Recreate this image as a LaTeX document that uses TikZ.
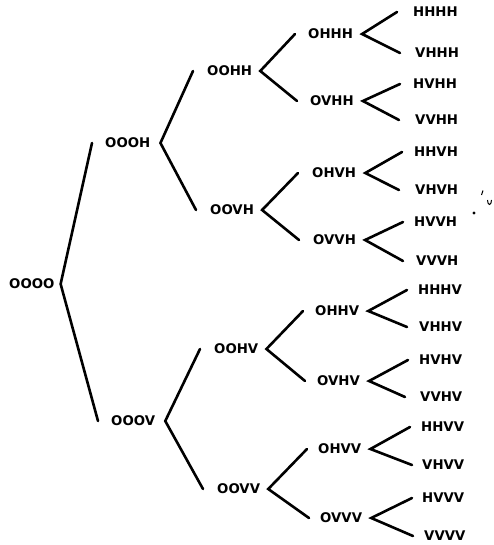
\documentclass[tikz,border=0pt]{standalone}
\usepackage{fontspec}
\newfontfamily\lblfont{DejaVu Sans}
\begin{document}
\begin{tikzpicture}[x=1pt,y=-1pt,
  lbl/.style={anchor=west,inner sep=0pt,font=\lblfont\bfseries\fontsize{13.3}{15}\selectfont},
  br/.style={line width=2.6pt,line cap=round,line join=miter},
  speck/.style={line width=1pt}]
\useasboundingbox (0,0) rectangle (493,545);
% level 0
\node[lbl] (OOOO) at (9,284) {OOOO};
% level 1
\node[lbl] (OOOH) at (105,143) {OOOH};
\node[lbl] (OOOV) at (111,421) {OOOV};
% level 2
\node[lbl] (OOHH) at (207,71) {OOHH};
\node[lbl] (OOVH) at (210,210) {OOVH};
\node[lbl] (OOHV) at (214,349) {OOHV};
\node[lbl] (OOVV) at (217,489) {OOVV};
% level 3
\node[lbl] (OHHH) at (308,34) {OHHH};
\node[lbl] (OVHH) at (310,101) {OVHH};
\node[lbl] (OHVH) at (312,173) {OHVH};
\node[lbl] (OVVH) at (313,240) {OVVH};
\node[lbl] (OHHV) at (315,311) {OHHV};
\node[lbl] (OVHV) at (317,381) {OVHV};
\node[lbl] (OHVV) at (318,449) {OHVV};
\node[lbl] (OVVV) at (320,518) {OVVV};
% level 4
\node[lbl] (HHHH) at (413,12) {HHHH};
\node[lbl] (VHHH) at (415,53) {VHHH};
\node[lbl] (HVHH) at (413,84) {HVHH};
\node[lbl] (VVHH) at (415,120) {VVHH};
\node[lbl] (HHVH) at (414,152) {HHVH};
\node[lbl] (VHVH) at (415,190) {VHVH};
\node[lbl] (HVVH) at (414,222) {HVVH};
\node[lbl] (VVVH) at (416,261) {VVVH};
\node[lbl] (HHHV) at (418,290) {HHHV};
\node[lbl] (VHHV) at (419,327) {VHHV};
\node[lbl] (HVHV) at (419,360) {HVHV};
\node[lbl] (VVHV) at (420,397) {VVHV};
\node[lbl] (HHVV) at (421,427) {HHVV};
\node[lbl] (VHVV) at (422,465) {VHVV};
\node[lbl] (HVVV) at (422,498) {HVVV};
\node[lbl] (VVVV) at (424,536) {VVVV};
% branches
\draw[br] ([xshift=-13pt]OOOH.west) -- ([xshift=6pt]OOOO.east) -- ([xshift=-13pt]OOOV.west);
\draw[br] ([xshift=-14pt]OOHH.west) -- ([xshift=10pt]OOOH.east) -- ([xshift=-14pt]OOVH.west);
\draw[br] ([xshift=-14pt]OOHV.west) -- ([xshift=10pt]OOOV.east) -- ([xshift=-14pt]OOVV.west);
\draw[br] ([xshift=-13pt]OHHH.west) -- ([xshift=8pt]OOHH.east) -- ([xshift=-13pt]OVHH.west);
\draw[br] ([xshift=-14pt]OHVH.west) -- ([xshift=8pt]OOVH.east) -- ([xshift=-14pt]OVVH.west);
\draw[br] ([xshift=-12pt]OHHV.west) -- ([xshift=8pt]OOHV.east) -- ([xshift=-12pt]OVHV.west);
\draw[br] ([xshift=-11pt]OHVV.west) -- ([xshift=8pt]OOVV.east) -- ([xshift=-11pt]OVVV.west);
\draw[br] ([xshift=-16pt]HHHH.west) -- ([xshift=9pt]OHHH.east) -- ([xshift=-15pt]VHHH.west);
\draw[br] ([xshift=-13pt]HVHH.west) -- ([xshift=9pt]OVHH.east) -- ([xshift=-16pt]VVHH.west);
\draw[br] ([xshift=-12pt]HHVH.west) -- ([xshift=9pt]OHVH.east) -- ([xshift=-16pt]VHVH.west);
\draw[br] ([xshift=-11pt]HVVH.west) -- ([xshift=9pt]OVVH.east) -- ([xshift=-13pt]VVVH.west);
\draw[br] ([xshift=-11pt]HHHV.west) -- ([xshift=9pt]OHHV.east) -- ([xshift=-12pt]VHHV.west);
\draw[br] ([xshift=-11pt]HVHV.west) -- ([xshift=9pt]OVHV.east) -- ([xshift=-15pt]VVHV.west);
\draw[br] ([xshift=-11pt]HHVV.west) -- ([xshift=9pt]OHVV.east) -- ([xshift=-10pt]VHVV.west);
\draw[br] ([xshift=-10pt]HVVV.west) -- ([xshift=9pt]OVVV.east) -- ([xshift=-11pt]VVVV.west);
% stray marks
\fill (474,213) circle (1.6pt);
\draw[speck] (481.5,195) -- (483,190.5);
\draw[speck] (487.5,200) .. controls (487.5,206) and (491.5,206) .. (491.5,200);
\end{tikzpicture}
\end{document}
